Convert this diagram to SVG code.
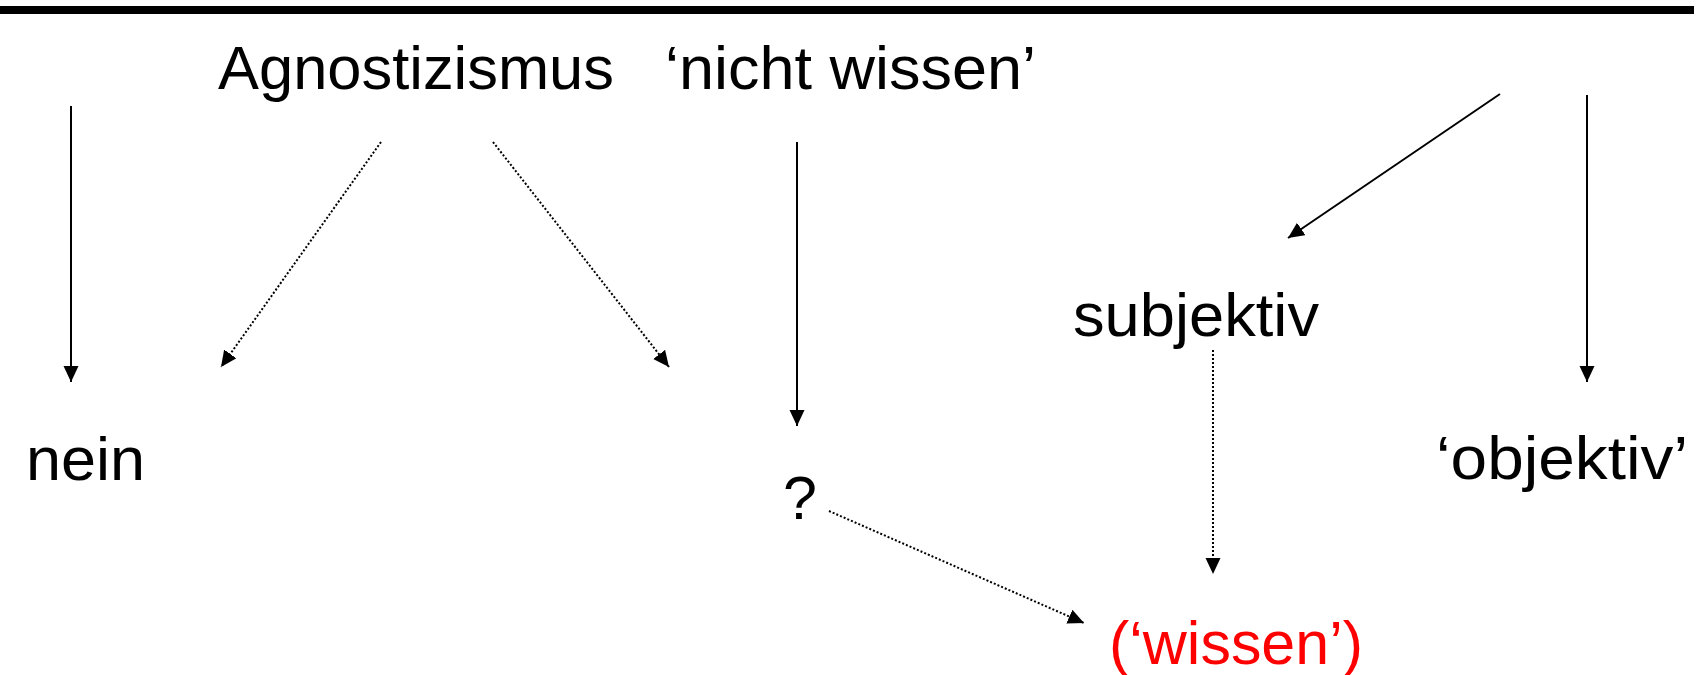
<svg xmlns="http://www.w3.org/2000/svg" width="1702" height="675" viewBox="0 0 1702 675">
<style>
  .t { font-family: "Liberation Sans", Arial, sans-serif; font-size: 61px; fill: #000; }
  .red { fill: #ff0000; }
  .solid { stroke: #000; stroke-width: 2; fill: none; marker-end: url(#ah); }
  .dot { stroke: #000; stroke-width: 2; stroke-dasharray: 2 2; fill: none; marker-end: url(#ah); }
</style>
<defs>
  <marker id="ah" markerUnits="userSpaceOnUse" markerWidth="18" markerHeight="16" refX="16" refY="7.5" orient="auto">
    <path d="M0,0 L16,7.5 L0,15 z" fill="#000"/>
  </marker>
</defs>
<rect x="0" y="6" width="1694" height="8" fill="#000"/>
<g id="connectors">
  <line class="solid" x1="71" y1="106" x2="71" y2="382"/>
  <line class="dot" x1="381" y1="142" x2="221" y2="367"/>
  <line class="dot" x1="493" y1="142" x2="669" y2="367"/>
  <line class="solid" x1="797" y1="142" x2="797" y2="426"/>
  <line class="solid" x1="1500" y1="94" x2="1288" y2="238"/>
  <line class="solid" x1="1587" y1="95" x2="1587" y2="382"/>
  <line class="dot" x1="1213" y1="350" x2="1213" y2="574"/>
  <line class="dot" x1="829" y1="511" x2="1084" y2="623"/>
</g>
<g id="node-agnostizismus">
  <text class="t" x="218" y="89" textLength="396" lengthAdjust="spacingAndGlyphs">Agnostizismus</text>
</g>
<g id="node-nicht-wissen">
  <text class="t" x="665" y="89" textLength="371" lengthAdjust="spacingAndGlyphs">‘nicht wissen’</text>
</g>
<g id="node-nein">
  <text class="t" x="26" y="480" textLength="119" lengthAdjust="spacingAndGlyphs">nein</text>
</g>
<g id="node-question">
  <text class="t" x="783" y="519">?</text>
</g>
<g id="node-subjektiv">
  <text class="t" x="1073" y="336" textLength="246" lengthAdjust="spacingAndGlyphs">subjektiv</text>
</g>
<g id="node-objektiv">
  <text class="t" x="1436" y="479" textLength="252" lengthAdjust="spacingAndGlyphs">‘objektiv’</text>
</g>
<g id="node-wissen">
  <text class="t red" x="1109" y="664" textLength="254" lengthAdjust="spacingAndGlyphs">(‘wissen’)</text>
</g>
</svg>
